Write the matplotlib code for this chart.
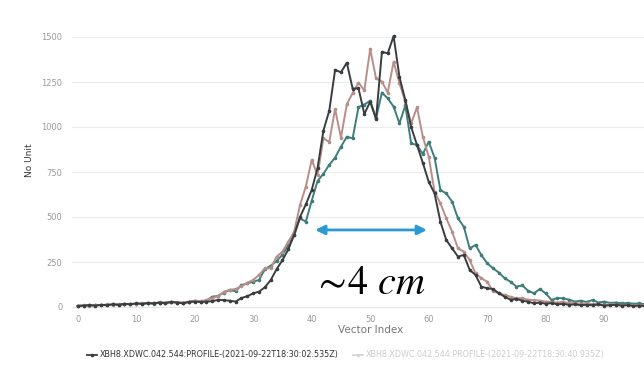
import matplotlib
matplotlib.use("Agg")
import matplotlib.pyplot as plt
from matplotlib.lines import Line2D

vector_index = list(range(100))

dark = [5, 8, 10, 8, 12, 10, 15, 12, 18, 15, 20, 18, 22, 20, 25, 22, 28, 25, 20, 28,
        30, 28, 30, 32, 40, 38, 35, 30, 50, 60, 76, 85, 110, 150, 210, 260, 320, 400, 500, 570,
        650, 772, 980, 1090, 1317, 1304, 1357, 1213, 1215, 1072, 1141, 1044, 1418, 1409, 1505, 1278, 1150, 1000, 900, 800,
        696, 631, 474, 372, 326, 280, 289, 206, 178, 113, 104, 100, 76, 57, 40, 45, 35, 30, 20, 25,
        18, 22, 15, 18, 12, 15, 10, 12, 10, 14, 8, 10, 12, 8, 10, 6, 8, 5, 6, 4]

pink = [6, 9, 8, 12, 10, 14, 12, 16, 15, 18, 17, 20, 22, 20, 26, 24, 30, 27, 25, 30,
        35, 32, 38, 50, 60, 85, 95, 100, 115, 135, 150, 178, 215, 215, 280, 307, 363, 418, 567, 669,
        817, 733, 937, 917, 1100, 940, 1126, 1189, 1246, 1204, 1434, 1270, 1252, 1191, 1363, 1243, 1141, 1020, 1109, 946,
        835, 641, 576, 493, 419, 326, 307, 261, 187, 159, 141, 87, 76, 67, 57, 48, 50, 40, 39, 35,
        30, 28, 25, 30, 20, 22, 18, 20, 15, 18, 12, 14, 12, 10, 12, 9, 10, 8, 9, 7]

teal = [7, 8, 10, 9, 12, 11, 14, 13, 16, 15, 18, 17, 21, 19, 24, 22, 27, 25, 22, 28,
        32, 30, 35, 57, 62, 80, 94, 88, 122, 131, 141, 150, 210, 230, 255, 290, 344, 400, 493, 474,
        590, 700, 740, 790, 830, 890, 946, 937, 1110, 1125, 1146, 1048, 1191, 1159, 1113, 1020, 1120, 909, 900, 850,
        918, 830, 650, 631, 585, 493, 446, 326, 344, 289, 243, 215, 191, 159, 140, 113, 120, 90, 76, 100,
        76, 39, 50, 48, 40, 30, 35, 28, 39, 25, 30, 22, 25, 20, 22, 18, 20, 15, 18, 12]

x_ticks = [0, 10, 20, 30, 40, 50, 60, 70, 80, 90]
y_ticks = [0, 250, 500, 750, 1000, 1250, 1500]
legend_labels = ["XBH8.XDWC.042.544:PROFILE-(2021-09-22T18:30:02.535Z)",
                 "XBH8.XDWC.042.544:PROFILE-(2021-09-22T18:30:40.935Z)"]
annot_text = r"$\sim\!4\ cm$"
arrow_span = (40.6, 59.7)
arrow_level = 428

c_dark = "#3a3d3f"
c_pink = "#b88e89"
c_teal = "#3e7d7b"

plt.rcParams["mathtext.fontset"] = "stix"
fig = plt.figure(figsize=(6.44, 3.67), dpi=100)
ax = fig.add_axes([72/644, (367-307)/367, 1 - 72/644, 270/367])
ax.set_xlim(-0.97, 96.8)
ax.set_ylim(0, 1500)

for series, col, z in [(teal, c_teal, 2), (pink, c_pink, 3), (dark, c_dark, 4)]:
    ax.plot(vector_index, series, color=col, lw=1.4, marker="o", ms=1.6,
            zorder=z, clip_on=False)

ax.set_yticks(y_ticks)
ax.set_xticks(x_ticks)
ax.grid(axis="y", color="#ececec", lw=0.8)
ax.set_axisbelow(True)
for s in ["top", "right", "left"]:
    ax.spines[s].set_visible(False)
ax.spines["bottom"].set_color("#e4e4e4")
ax.tick_params(axis="both", length=0, labelsize=6, labelcolor="#9a9a9a")
ax.tick_params(axis="y", pad=7)
ax.tick_params(axis="x", pad=6)

fig.text(30/644, 1 - 160/367, "No Unit", rotation=90, fontsize=6.5, color="#333333",
         ha="center", va="center")
fig.text(371/644, 1 - 330/367, "Vector Index", fontsize=7.5, color="#777777",
         ha="center", va="center")

# legend
h1 = Line2D([], [], color=c_dark, lw=1.3, marker="o", ms=1.6)
h2 = Line2D([], [], color="#d6d6d6", lw=1.3, marker="o", ms=1.6)
leg = fig.legend([h1, h2], legend_labels, loc="center", bbox_to_anchor=(346/644, 1 - 355/367),
                 ncol=2, frameon=False, fontsize=5.8, handlelength=1.2, handletextpad=0.4,
                 columnspacing=1.8)
leg.get_texts()[0].set_color("#333333")
leg.get_texts()[1].set_color("#cccccc")

ax.annotate("", xy=(arrow_span[1], arrow_level), xytext=(arrow_span[0], arrow_level),
            arrowprops=dict(arrowstyle="<|-|>", color="#2b9ad3", lw=2, mutation_scale=14,
                            shrinkA=0, shrinkB=0))
fig.text(369/644, 1 - 283/367, annot_text, fontsize=29, color="black",
         ha="center", va="center")

fig.savefig("out.png", dpi=100)
